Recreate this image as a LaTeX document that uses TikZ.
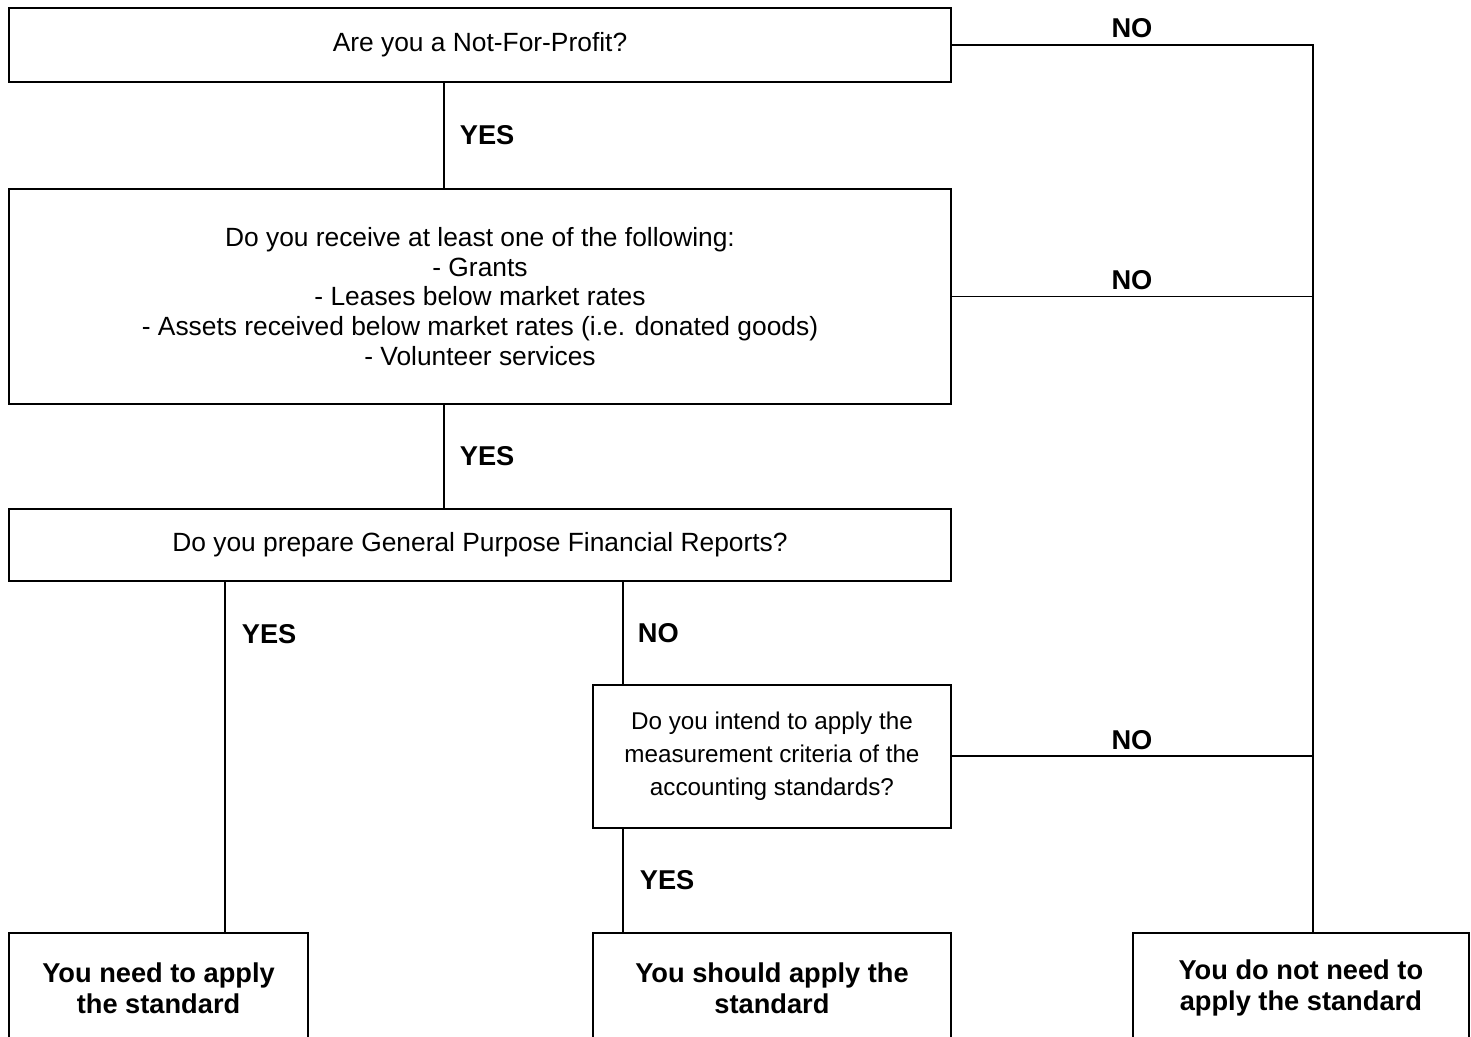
\documentclass[tikz,border=0pt]{standalone}
\usepackage{fontspec}
\setmainfont{Liberation Sans}
\usepackage{tikz}
\usetikzlibrary{positioning}

\begin{document}
\begin{tikzpicture}[
    x=0.02cm, y=-0.02cm,
    font=\fontsize{15}{17}\selectfont,
    box/.style={draw, line width=1pt, align=center, minimum width=18.84cm, inner sep=2pt, outer sep=0pt},
    leaf/.style={box, font=\fontsize{15.5}{17.6}\selectfont\bfseries, minimum height=2.2cm},
    lbl/.style={inner sep=0pt, font=\fontsize{15.5}{17.6}\selectfont\bfseries},
    link/.style={line width=1pt}
  ]
    \useasboundingbox (0,0) rectangle (1471,1036);
    \coordinate (mainx) at (444,0);
    \coordinate (leftx) at (225,0);
    \coordinate (midx) at (623,0);
    \coordinate (rail) at (1313,0);

    \node[box, minimum height=1.48cm] (Q1) at (480,45) {Are you a Not-For-Profit?};
    \node[box, minimum height=4.3cm, below=2.14cm of Q1] (Q2) {Do you receive at least one of the following:\\- Grants\\- Leases below market rates\\- Assets received below market rates (i.e. donated goods)\\- Volunteer services};
    \node[box, minimum height=1.44cm, below=2.1cm of Q2] (Q3) {Do you prepare General Purpose Financial Reports?};
    \node[box, font=\fontsize{13.8}{18.7}\selectfont, minimum width=7.16cm, minimum height=2.86cm, below left=2.08cm and 0cm of Q3.south east] (Q4) {Do you intend to apply the\\measurement criteria of the\\accounting standards?};
    \node[leaf, minimum width=7.16cm, below left=2.1cm and 0cm of Q4.south east] (Q6) {You should apply the\\standard};
    \node[leaf, minimum width=5.98cm, below right=7.04cm and 0cm of Q3.south west] (Q5) {You need to apply\\the standard};
    \node[leaf, minimum width=6.72cm, right=3.64cm of Q6] (Q7) {You do not need to\\apply the standard};

    \draw[link] (Q1.south -| mainx) -- (Q2.north -| mainx) node[lbl, midway, right=0.3cm] {YES};
    \draw[link] (Q2.south -| mainx) -- (Q3.north -| mainx) node[lbl, midway, right=0.3cm] {YES};
    \draw[link] (Q3.south -| leftx) -- (Q5.north -| leftx) node[lbl, pos=0.15, right=0.32cm] {YES};
    \draw[link] (Q3.south -| midx) -- (Q4.north -| midx) node[lbl, midway, right=0.28cm] {NO};
    \draw[link] (Q4.south -| midx) -- (Q6.north -| midx) node[lbl, midway, right=0.32cm] {YES};
    \draw[link] (Q1.east) -- (Q1.east -| rail) node[lbl, midway, above=0.12cm] {NO} -- (rail |- Q7.north);
    \draw[link] (Q2.east) -- (Q2.east -| rail) node[lbl, midway, above=0.12cm] {NO};
    \draw[link] (Q4.east) -- (Q4.east -| rail) node[lbl, midway, above=0.12cm] {NO};
\end{tikzpicture}
\end{document}
